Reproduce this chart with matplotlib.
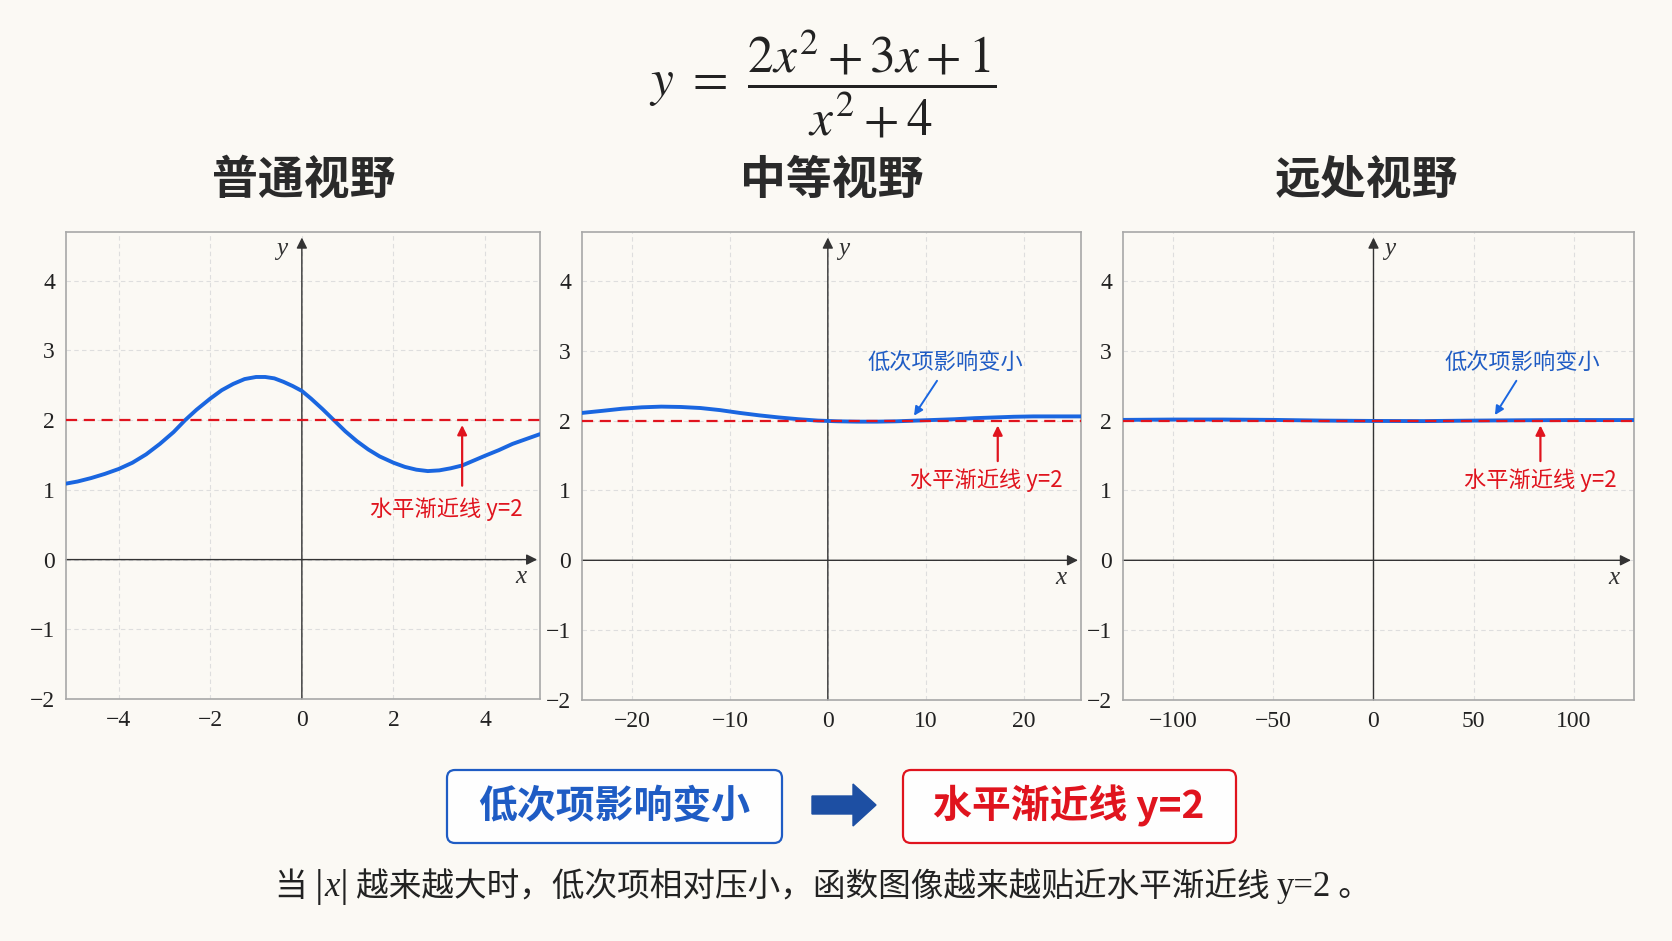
import matplotlib
matplotlib.use("Agg")
import matplotlib.pyplot as plt
from matplotlib.patches import FancyBboxPatch, FancyArrow
from matplotlib.offsetbox import TextArea, HPacker, AnnotationBbox

# Curve values

x_near = [-5.15, -4.9, -4.6, -4.3, -4.0, -3.7, -3.4, -3.1, -2.8, -2.55, -2.3, -2.0,
          -1.75, -1.5, -1.25, -1.0, -0.8, -0.6, -0.4, -0.2, 0.0, 0.2, 0.45, 0.7,
          0.95, 1.2, 1.45, 1.7, 2.0, 2.25, 2.5, 2.75, 3.0, 3.25, 3.5, 3.75, 4.0,
          4.3, 4.6, 4.9, 5.2]
y_near = [1.09, 1.12, 1.17, 1.23, 1.30, 1.39, 1.51, 1.66, 1.83, 2.00, 2.15, 2.31,
          2.43, 2.52, 2.59, 2.62, 2.62, 2.60, 2.55, 2.49, 2.42, 2.31, 2.16, 2.00,
          1.84, 1.70, 1.58, 1.48, 1.39, 1.33, 1.29, 1.27, 1.28, 1.31, 1.35, 1.42, 1.49,
          1.57, 1.66, 1.73, 1.80]

x_mid = [-25.1, -23, -21, -19, -17, -15, -13, -11, -9, -7, -5, -3, -1, 1, 3, 5,
         7, 9, 11, 13, 15, 17, 19, 21, 23, 25.85]
y_mid = [2.11, 2.14, 2.17, 2.19, 2.20, 2.195, 2.18, 2.15, 2.11, 2.075, 2.045, 2.02,
         2.0, 1.99, 1.985, 1.985, 1.99, 2.0, 2.01, 2.02, 2.035, 2.045, 2.055, 2.06,
         2.06, 2.06]

x_far = [-125, -100, -75, -50, -25, 0, 25, 50, 75, 100, 130]
y_far = [2.01, 2.015, 2.015, 2.01, 2.0, 1.995, 1.993, 2.0, 2.005, 2.008, 2.008]

titles = ['普通视野', '中等视野', '远处视野']
xticks_near = [-4, -2, 0, 2, 4]
xticks_mid = [-20, -10, 0, 10, 20]
xticks_far = [-100, -50, 0, 50, 100]
yticks = [-2, -1, 0, 1, 2, 3, 4]
asymptote = 2

note_low = '低次项影响变小'
note_asym = '水平渐近线 y=2'

BG = '#fbf9f4'
BLUE = '#1a66e0'
BOX_BLUE = '#1f5cc4'
RED = '#e0141e'
AXIS = '#333333'
CJK = ['Noto Sans CJK SC', 'DejaVu Sans']
SERIF = 'Liberation Serif'

plt.rcParams['mathtext.fontset'] = 'stix'
plt.rcParams['axes.unicode_minus'] = True

W, H = 1672, 941
fig = plt.figure(figsize=(W / 100, H / 100), dpi=100, facecolor=BG)


def rect(left, top, width, height):
    return [left / W, 1 - (top + height) / H, width / W, height / H]


panels = [
    dict(box=(66, 232, 474, 467), xlim=(-5.15, 5.2), xs=x_near, ys=y_near, ticks=xticks_near,
         ylab_dx=-0.45, xlab=4.78, red=(3.5, 3.16), blue=None),
    dict(box=(582, 232, 499, 468), xlim=(-25.1, 25.85), xs=x_mid, ys=y_mid, ticks=xticks_mid,
         ylab_dx=1.6, xlab=23.8, red=(17.35, 16.2), blue=((12.0, 2.83), (11.15, 2.57), (8.8, 2.07))),
    dict(box=(1123, 232, 511, 468), xlim=(-125, 130), xs=x_far, ys=y_far, ticks=xticks_far,
         ylab_dx=8.0, xlab=119.8, red=(83.3, 83.1), blue=((74.4, 2.83), (71.3, 2.57), (60.6, 2.08))),
]

for p in panels:
    ax = fig.add_axes(rect(*p['box']))
    ax.set_facecolor(BG)
    x0, x1 = p['xlim']
    ax.set_xlim(x0, x1)
    ax.set_ylim(-2, 4.7)
    ax.set_xticks(p['ticks'])
    ax.set_yticks(yticks)
    ax.grid(True, color='#dedede', lw=0.8, ls=(0, (4, 3)), zorder=0)
    ax.tick_params(axis='both', length=0, labelsize=17, labelcolor='#222222')
    ax.tick_params(axis='y', pad=8)
    ax.tick_params(axis='x', pad=8)
    for lab in ax.get_xticklabels() + ax.get_yticklabels():
        lab.set_fontfamily(SERIF)
    for s in ax.spines.values():
        s.set_color('#a8a8a8')
        s.set_linewidth(1.2)

    # coordinate axes with arrows
    span = x1 - x0
    ax.annotate('', xy=(x1 - 0.006 * span, 0), xytext=(x0, 0),
                arrowprops=dict(arrowstyle='-|>', color=AXIS, lw=1.0, mutation_scale=16,
                                shrinkA=0, shrinkB=0), zorder=2)
    ax.annotate('', xy=(0, 4.62), xytext=(0, -2),
                arrowprops=dict(arrowstyle='-|>', color=AXIS, lw=1.0, mutation_scale=16,
                                shrinkA=0, shrinkB=0), zorder=2)
    ax.text(p['xlab'], -0.25, 'x', fontfamily=SERIF, fontstyle='italic', fontsize=18,
            color=AXIS, ha='center', va='center')
    ax.text(p['ylab_dx'], 4.45, 'y', fontfamily=SERIF, fontstyle='italic', fontsize=18,
            color=AXIS, ha='center', va='center')

    ax.plot(p['xs'], p['ys'], color=BLUE, lw=2.8, solid_capstyle='round',
            solid_joinstyle='round', zorder=3)
    ax.axhline(asymptote, color=RED, lw=1.6, dashes=(5, 3), zorder=4)

    # red note: horizontal asymptote
    ax_x, tx = p['red']
    ax.annotate('', xy=(ax_x, 1.93), xytext=(ax_x, 1.42 if p['blue'] else 1.06),
                arrowprops=dict(arrowstyle='-|>', color=RED, lw=1.6, mutation_scale=14,
                                shrinkA=0, shrinkB=0), zorder=5)
    ax.text(tx, 1.15 if p['blue'] else 0.73, note_asym, color=RED, fontsize=16,
            family=CJK, ha='center', va='center')

    if p['blue']:
        (bx, by), tail, tip = p['blue']
        ax.text(bx, by, note_low, color=BOX_BLUE, fontsize=16, family=CJK,
                ha='center', va='center')
        ax.annotate('', xy=tip, xytext=tail,
                    arrowprops=dict(arrowstyle='-|>', color=BLUE, lw=1.4, mutation_scale=13,
                                    shrinkA=0, shrinkB=0), zorder=5)

# overlay in pixel coordinates for titles, formula, boxes and caption
ov = fig.add_axes([0, 0, 1, 1])
ov.set_xlim(0, W)
ov.set_ylim(H, 0)
ov.axis('off')
ov.patch.set_visible(False)

ov.text(823, 84, r'$y\ =\ \dfrac{2x^2+3x+1}{x^2+4}$', fontsize=37, color='#222222',
        ha='center', va='center')

for cx, t in zip([304, 832, 1366], titles):
    ov.text(cx, 181, t, fontsize=33, fontweight='bold', family=CJK, color='#2a2a2a',
            ha='center', va='center')

ov.add_patch(FancyBboxPatch((447, 770), 335, 73, boxstyle='round,pad=0,rounding_size=8',
                            fc='#fefefe', ec=BOX_BLUE, lw=1.6))
ov.add_patch(FancyBboxPatch((903, 770), 333, 73, boxstyle='round,pad=0,rounding_size=8',
                            fc='#fefefe', ec=RED, lw=1.6))
ov.text(614, 806, note_low, fontsize=28, fontweight='bold', family=CJK, color=BOX_BLUE,
        ha='center', va='center')
ov.text(1069, 806, note_asym, fontsize=28, fontweight='bold', family=CJK, color=RED,
        ha='center', va='center')
ov.add_patch(FancyArrow(812, 805, 64, 0, width=18, head_width=42, head_length=23,
                        length_includes_head=True, color='#1d4fa3'))

# caption with italic x
cjk_prop = dict(fontsize=23.5, family=CJK, color='#222222')
serif_prop = dict(fontsize=25, family=SERIF, color='#222222')
parts = [
    TextArea('当 |', textprops=cjk_prop),
    TextArea('x', textprops=dict(serif_prop, fontstyle='italic')),
    TextArea('| 越来越大时，低次项相对压小，函数图像越来越贴近水平渐近线 ', textprops=cjk_prop),
    TextArea('y=2', textprops=serif_prop),
    TextArea(' 。', textprops=cjk_prop),
]
pack = HPacker(children=parts, align='baseline', pad=0, sep=0)
ov.add_artist(AnnotationBbox(pack, (823, 887), xycoords='data', frameon=False,
                             box_alignment=(0.5, 0.5)))

fig.savefig('out.png', dpi=100, facecolor=BG)
